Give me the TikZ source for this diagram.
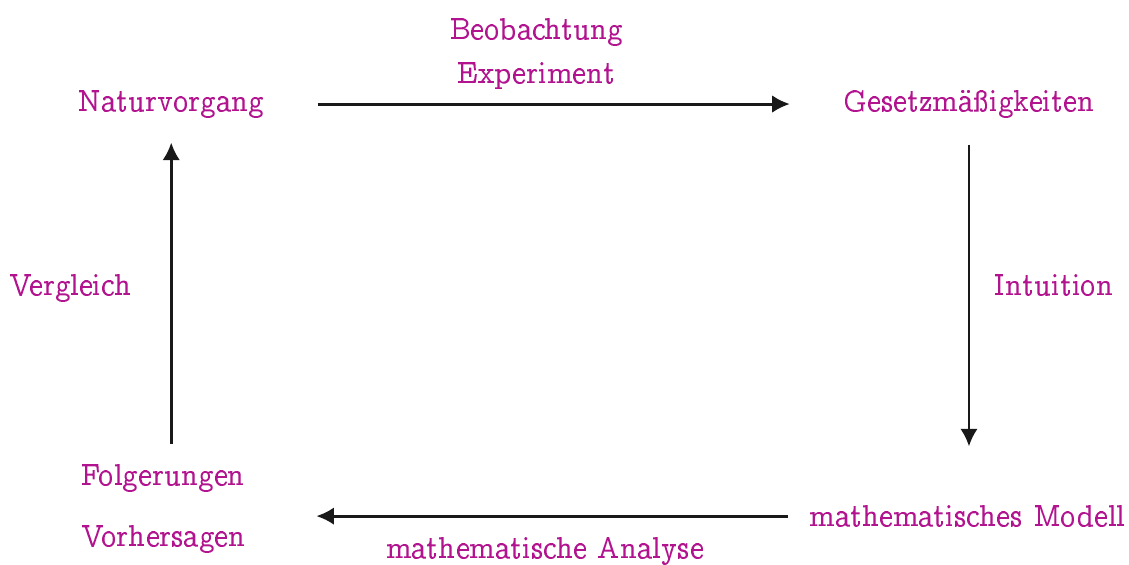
\documentclass[tikz,border=0pt]{standalone}
\usepackage[OT1]{fontenc}
\usepackage{ccfonts}
\usepackage{tikz}
\usetikzlibrary{arrows.meta,positioning}
\definecolor{cyclePink}{RGB}{178,18,142}
\definecolor{arrowBlack}{RGB}{25,25,25}

\begin{document}
\begin{tikzpicture}[
  every node/.style={align=center,font=\fontsize{10.7}{13}\selectfont},
  lbl/.style={text=cyclePink,inner sep=3pt},
  arr/.style={-{Latex[length=2.2mm,width=2.2mm]},line width=1.05pt,arrowBlack}]
\useasboundingbox (0,0) rectangle (14.11,-7.06);
\node[lbl] (nat) at (2.14,-1.30) {Naturvorgang};
\node[lbl] (ges) at (12.11,-1.30) {Gesetzm\"a\ss igkeiten};
\node[lbl] (mod) at (12.09,-6.45) {mathematisches Modell};
\node[lbl] (folg) at (2.04,-6.35) {Folgerungen\\[3.1mm]Vorhersagen};
\draw[arr,shorten <=0.56cm,shorten >=0.56cm] (nat) --
  node[lbl,above=0.6mm,xshift=-2.2mm] (beob) {Beobachtung\\[0.9mm]Experiment} (ges);
\draw[arr,shorten <=0.225cm,shorten >=0.625cm] (ges.south) --
  node[lbl,right=2mm,yshift=3.4mm] (intu) {Intuition} (ges.south |- mod.north);
\draw[arr,shorten <=0.15cm,shorten >=0.775cm] (mod.west) --
  node[lbl,below=1.4mm,xshift=2.2mm] (ana) {mathematische Analyse} (mod.west -| folg.east);
\draw[arr,shorten <=0.14cm,shorten >=0.2cm] (folg.north -| nat.south) --
  node[lbl,left=3.7mm,yshift=0.4mm] (verg) {Vergleich} (nat.south);
\end{tikzpicture}
\end{document}
